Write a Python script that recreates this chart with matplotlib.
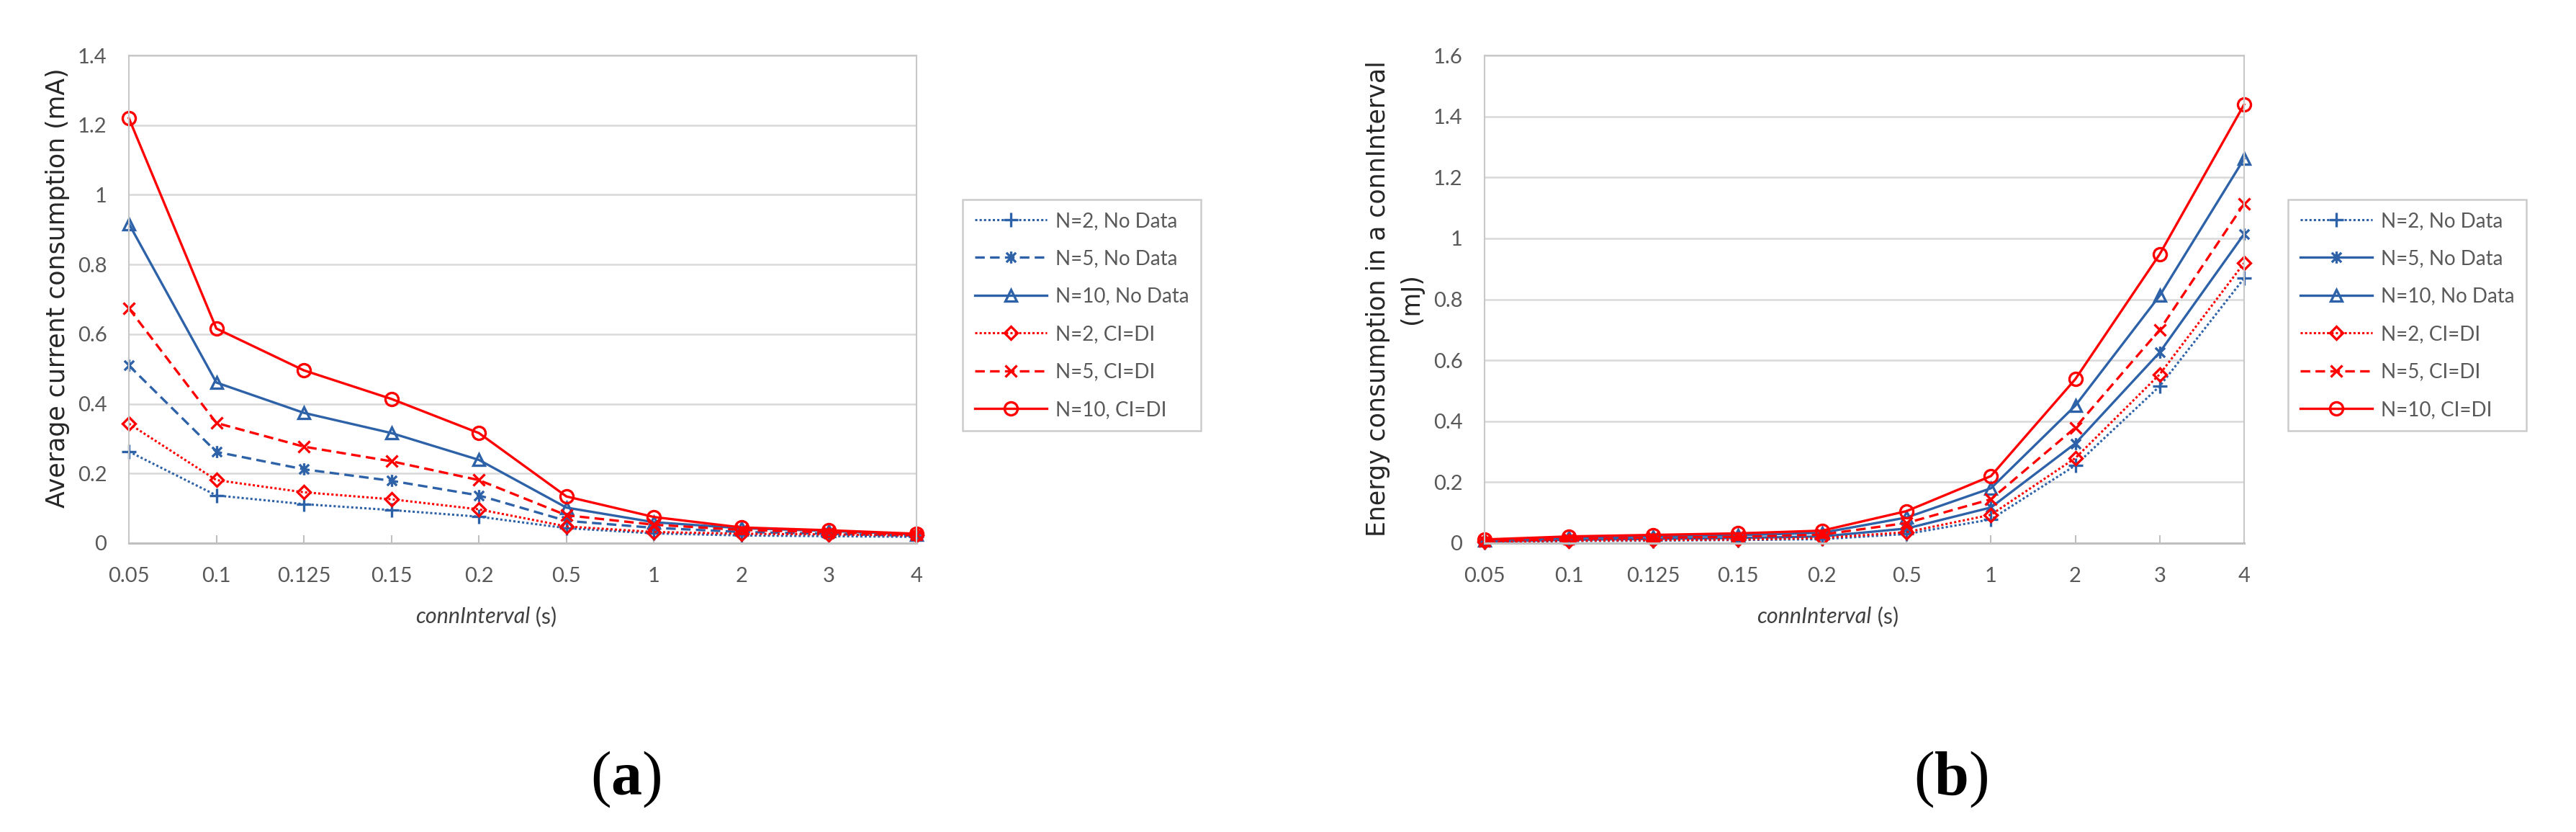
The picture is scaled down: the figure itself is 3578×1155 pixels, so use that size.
import matplotlib
matplotlib.use('Agg')
import matplotlib.pyplot as plt
from matplotlib.path import Path

# x categories (conninterval, s)
categories = ['0.05', '0.1', '0.125', '0.15', '0.2', '0.5', '1', '2', '3', '4']
series_labels = ['N=2, No Data', 'N=5, No Data', 'N=10, No Data',
                 'N=2, CI=DI', 'N=5, CI=DI', 'N=10, CI=DI']

# (a) average current consumption, mA
cur_n2_nodata = [0.263, 0.137, 0.112, 0.095, 0.076, 0.043, 0.028, 0.022, 0.020, 0.018]
cur_n5_nodata = [0.510, 0.262, 0.212, 0.179, 0.137, 0.064, 0.044, 0.032, 0.027, 0.021]
cur_n10_nodata = [0.917, 0.461, 0.374, 0.316, 0.239, 0.102, 0.060, 0.043, 0.035, 0.025]
cur_n2_cidi = [0.343, 0.181, 0.146, 0.126, 0.097, 0.048, 0.032, 0.027, 0.025, 0.022]
cur_n5_cidi = [0.674, 0.345, 0.277, 0.235, 0.181, 0.080, 0.053, 0.038, 0.031, 0.024]
cur_n10_cidi = [1.220, 0.616, 0.496, 0.414, 0.316, 0.134, 0.075, 0.045, 0.037, 0.027]

# (b) energy consumption in a conninterval, mJ
en_n2_nodata = [0.003, 0.007, 0.008, 0.010, 0.013, 0.030, 0.078, 0.255, 0.515, 0.869]
en_n5_nodata = [0.005, 0.011, 0.014, 0.017, 0.022, 0.048, 0.117, 0.327, 0.626, 1.014]
en_n10_nodata = [0.009, 0.018, 0.022, 0.026, 0.034, 0.084, 0.180, 0.451, 0.812, 1.261]
en_n2_cidi = [0.004, 0.008, 0.010, 0.012, 0.017, 0.036, 0.093, 0.279, 0.554, 0.919]
en_n5_cidi = [0.007, 0.014, 0.018, 0.021, 0.028, 0.066, 0.144, 0.379, 0.700, 1.113]
en_n10_cidi = [0.012, 0.022, 0.027, 0.032, 0.041, 0.105, 0.220, 0.538, 0.948, 1.439]

plt.rcParams['mathtext.fontset'] = 'custom'
plt.rcParams['mathtext.rm'] = 'Liberation Serif'
plt.rcParams['mathtext.bf'] = 'Liberation Serif:bold'

blue = '#2E62A8'
red = '#FF0000'
grey_txt = '#595959'
dotted = (0, (1, 1))
dashed = (0, (4, 2.2))
star = Path([(-1, -1), (1, 1), (-1, 1), (1, -1), (0, -1.25), (0, 1.25)],
            [Path.MOVETO, Path.LINETO] * 3)

# color, linestyle, marker, markersize
style_a = [(blue, dotted, '+', 15), (blue, dashed, star, 12), (blue, '-', '^', 12),
           (red, dotted, 'D', 9), (red, dashed, 'x', 12), (red, '-', 'o', 13)]
style_b = list(style_a)
style_b[1] = (blue, '-', star, 12)

W, H = 3578, 1155
fig = plt.figure(figsize=(W / 100, H / 100), dpi=100)


def draw(rect, data, styles, ymax, ylabel, ylab_xy, legend_xy, caption, cap_xy):
    ax = fig.add_axes(rect)
    x = range(len(categories))
    for vals, lab, (c, ls, m, ms) in zip(data, series_labels, styles):
        lw = 2.2 if ls == dotted else 2.4
        ax.plot(x, vals, color=c, linestyle=ls, lw=lw, marker=m, markersize=ms,
                markerfacecolor='none', markeredgecolor=c, markeredgewidth=2.4,
                label=lab, clip_on=False)
    ax.set_xlim(0, len(categories) - 1)
    ax.set_ylim(0, ymax)
    ax.set_xticks(list(x))
    ax.set_xticklabels(categories)
    yt = [i * 0.2 for i in range(int(round(ymax / 0.2)) + 1)]
    ax.set_yticks(yt)
    ax.set_yticklabels([f'{v:g}' for v in yt])
    for t in ax.get_xticklabels() + ax.get_yticklabels():
        t.set_fontfamily('Lato')
    ax.tick_params(axis='x', direction='in', length=8, width=1.5, color='#BFBFBF',
                   labelsize=21, labelcolor=grey_txt, pad=24)
    ax.tick_params(axis='y', length=0, labelsize=21, labelcolor=grey_txt, pad=22)
    ax.yaxis.grid(True, color='#D9D9D9', lw=1.8)
    ax.set_axisbelow(True)
    for s in ax.spines.values():
        s.set_color('#C8C8C8')
        s.set_linewidth(1.5)
    ax.spines['bottom'].set_linewidth(2.2)
    ax.spines['bottom'].set_color('#BFBFBF')

    cx = rect[0] + rect[2] / 2 + 10 / W
    fig.text(cx, 1 - 856 / H, 'connInterval', ha='right', va='center',
             fontsize=22, style='italic', family='Lato', color='#404040')
    fig.text(cx, 1 - 856 / H, ' (s)', ha='left', va='center',
             fontsize=22, family='Lato', color='#404040')
    fig.text(ylab_xy[0] / W, 1 - ylab_xy[1] / H, ylabel, rotation=90, ha='center',
             va='center', fontsize=25, family='DejaVu Sans', color='#262626',
             multialignment='center', linespacing=1.45)

    leg = ax.legend(loc='upper left', bbox_to_anchor=(legend_xy[0] / W, 1 - legend_xy[1] / H),
                    bbox_transform=fig.transFigure, borderaxespad=0,
                    frameon=True, fancybox=False, edgecolor='#BFBFBF', handlelength=3.6,
                    handletextpad=0.45, labelspacing=0.95, borderpad=0.6,
                    prop={'family': 'Lato', 'size': 20})
    leg.get_frame().set_linewidth(1.8)
    for t in leg.get_texts():
        t.set_color(grey_txt)

    fig.text(cap_xy[0] / W, 1 - cap_xy[1] / H, caption, ha='center', va='center',
             fontsize=62, family='Liberation Serif')
    return ax


draw([179 / W, 1 - 754 / H, (1273 - 179) / W, (754 - 77) / H],
     [cur_n2_nodata, cur_n5_nodata, cur_n10_nodata, cur_n2_cidi, cur_n5_cidi, cur_n10_cidi],
     style_a, 1.4, 'Average current consumption (mA)', (80, 400), (1337, 277),
     r'($\mathbf{a}$)', (869, 1082))

draw([2062 / W, 1 - 754 / H, (3117 - 2062) / W, (754 - 77) / H],
     [en_n2_nodata, en_n5_nodata, en_n10_nodata, en_n2_cidi, en_n5_cidi, en_n10_cidi],
     style_b, 1.6, 'Energy consumption in a connInterval\n(mJ)', (1937, 415), (3178, 277),
     r'($\mathbf{b}$)', (2710, 1082))

fig.savefig('out.png', dpi=100, facecolor='white')
